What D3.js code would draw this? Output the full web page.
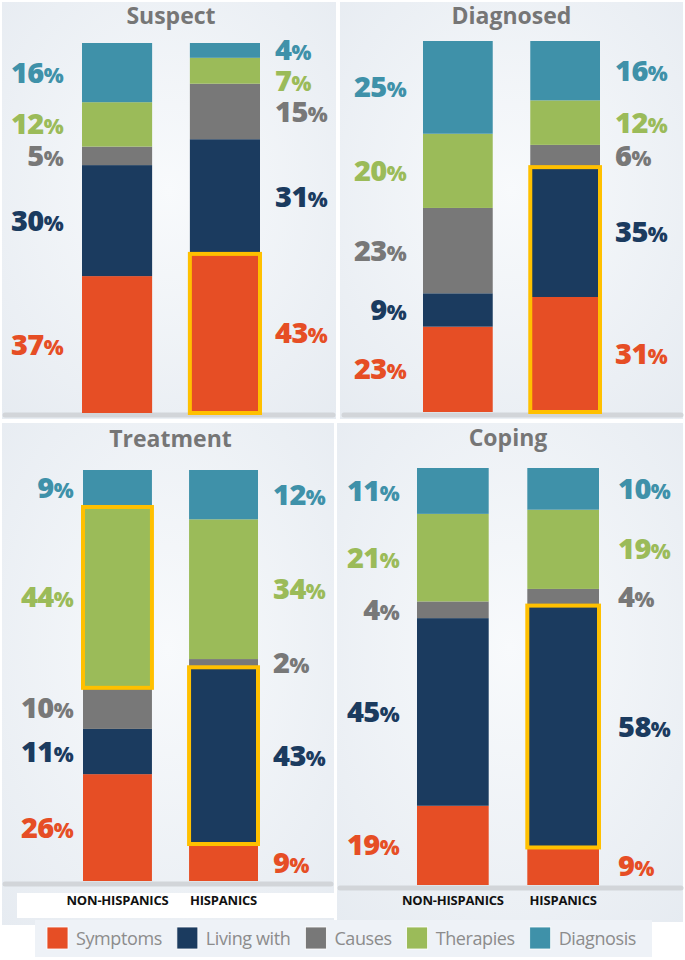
<!DOCTYPE html>
<html>
<head>
<meta charset="utf-8">
<script src="https://cdn.jsdelivr.net/npm/d3@7"></script>
<style>
  body { margin: 0; background: #fff; }
  svg { display: block; font-family: 'Open Sans', sans-serif; }
</style>
</head>
<body>
<svg id="chart" width="685" height="960"></svg>
<script>
// categories, bottom to top in each bar
const categories = ['Symptoms', 'Living with', 'Causes', 'Therapies', 'Diagnosis'];
const colors = ['#E64E25', '#1B3B5F', '#787878', '#9BBB59', '#3F91A9'];
const groups = ['NON-HISPANICS', 'HISPANICS'];
const panelTitles = ['Suspect', 'Diagnosed', 'Treatment', 'Coping'];

// % per category, one row per group
const suspectValues = [[37, 30, 5, 12, 16], [43, 31, 15, 7, 4]];
const diagnosedValues = [[23, 9, 23, 20, 25], [31, 35, 6, 12, 16]];
const treatmentValues = [[26, 11, 10, 44, 9], [9, 43, 2, 34, 12]];
const copingValues = [[19, 45, 4, 21, 11], [9, 58, 4, 19, 10]];

// highlighted blocks: [group index, first category, last category]
const suspectHighlight = [[1, 0, 0]];
const diagnosedHighlight = [[1, 0, 1]];
const treatmentHighlight = [[0, 3, 3], [1, 1, 1]];
const copingHighlight = [[1, 1, 1]];

const allValues = [suspectValues, diagnosedValues, treatmentValues, copingValues];
const allHighlights = [suspectHighlight, diagnosedHighlight, treatmentHighlight, copingHighlight];

// layout of each panel
const layout = [
  { box: [2, 2, 334, 417], bars: [82, 260], ys: [413, 43], titleY: 24, base: [5, 333, 415], gapL: 19, gapR: 15, axis: false },
  { box: [340, 2, 343, 417], bars: [423, 600], ys: [412, 41], titleY: 24, base: [344, 681, 415], gapL: 17, gapR: 15, axis: false },
  { box: [2, 423, 332, 502], bars: [83, 258], ys: [881, 470], titleY: 447, base: [5, 331, 884], gapL: 10, gapR: 15, axis: true, strip: [17, 893, 320, 25] },
  { box: [337, 423, 346, 499], bars: [417, 599], ys: [885, 468], titleY: 446, base: [340, 681, 888], gapL: 18, gapR: 19, axis: true }
];

const svg = d3.select('#chart');

const defs = svg.append('defs');
const grad = defs.append('radialGradient')
  .attr('id', 'panelBg')
  .attr('cx', '50%').attr('cy', '45%').attr('r', '75%');
grad.append('stop').attr('offset', '0%').attr('stop-color', '#F8FAFC');
grad.append('stop').attr('offset', '100%').attr('stop-color', '#E6EBF1');

const stack = d3.stack().keys(d3.range(categories.length));

allValues.forEach((values, p) => {
  const L = layout[p];
  const g = svg.append('g');

  g.append('rect')
    .attr('x', L.box[0]).attr('y', L.box[1])
    .attr('width', L.box[2]).attr('height', L.box[3])
    .attr('fill', 'url(#panelBg)');

  if (L.strip) {
    g.append('rect')
      .attr('x', L.strip[0]).attr('y', L.strip[1])
      .attr('width', L.strip[2]).attr('height', L.strip[3])
      .attr('fill', '#fff');
  }

  const x = d3.scaleBand()
    .domain(groups)
    .range(L.bars)
    .paddingInner(0.35)
    .paddingOuter(0);

  const y = d3.scaleLinear()
    .domain([0, 100])
    .range(L.ys);

  // baseline
  g.append('line')
    .attr('x1', L.base[0]).attr('x2', L.base[1])
    .attr('y1', L.base[2]).attr('y2', L.base[2])
    .attr('stroke', '#D2D5D9')
    .attr('stroke-width', 5)
    .attr('stroke-linecap', 'round');

  // title
  g.append('text')
    .attr('x', (L.bars[0] + L.bars[1]) / 2)
    .attr('y', L.titleY)
    .attr('text-anchor', 'middle')
    .attr('font-size', 23)
    .attr('font-weight', 'bold')
    .attr('fill', '#767676')
    .text(panelTitles[p]);

  const series = stack(values);

  // segments
  g.selectAll('.layer')
    .data(series)
    .enter()
      .append('g')
      .attr('fill', (d, i) => colors[i])
      .selectAll('rect')
      .data(d => d.map((v, gi) => ({ v, gi })))
      .enter()
        .append('rect')
        .attr('x', d => x(groups[d.gi]))
        .attr('y', d => y(d.v[1]))
        .attr('width', x.bandwidth())
        .attr('height', d => y(d.v[0]) - y(d.v[1]));

  // highlight boxes
  g.selectAll('.hl')
    .data(allHighlights[p])
    .enter()
      .append('rect')
      .attr('x', d => x(groups[d[0]]))
      .attr('y', d => y(series[d[2]][d[0]][1]))
      .attr('width', x.bandwidth())
      .attr('height', d => y(series[d[1]][d[0]][0]) - y(series[d[2]][d[0]][1]))
      .attr('fill', 'none')
      .attr('stroke', '#FFC000')
      .attr('stroke-width', 4);

  // labels, avoiding overlaps from top down
  groups.forEach((grp, gi) => {
    const items = categories.map((c, ci) => ({
      ci,
      val: values[gi][ci],
      cy: (y(series[ci][gi][0]) + y(series[ci][gi][1])) / 2
    })).reverse();
    for (let i = 1; i < items.length; i++) {
      if (items[i].cy < items[i - 1].cy + 31) items[i].cy = items[i - 1].cy + 31;
    }
    const left = gi === 0;
    const tx = left ? x(grp) - L.gapL : x(grp) + x.bandwidth() + L.gapR;
    const t = g.selectAll('.lbl' + gi)
      .data(items)
      .enter()
        .append('text')
        .attr('x', tx)
        .attr('y', d => d.cy + 10)
        .attr('text-anchor', left ? 'end' : 'start')
        .attr('font-weight', 800)
        .attr('letter-spacing', -0.6)
        .attr('fill', d => colors[d.ci]);
    t.append('tspan').attr('font-size', 29).text(d => d.val);
    t.append('tspan').attr('font-size', 21).text('%');
  });

  if (L.axis) {
    const ax = g.append('g')
      .attr('transform', `translate(0,${896})`)
      .call(d3.axisBottom(x).tickSize(0).tickPadding(0));
    ax.select('.domain').remove();
    ax.selectAll('text')
      .attr('font-family', "'Open Sans', sans-serif")
      .attr('font-size', 13)
      .attr('font-weight', 'bold')
      .attr('fill', '#111')
      .attr('letter-spacing', -0.2);
  }
});

// legend
const legend = svg.append('g');
legend.append('rect')
  .attr('x', 35).attr('y', 920)
  .attr('width', 617).attr('height', 37)
  .attr('fill', '#EEF2F7');

let lx = 47;
categories.forEach((c, i) => {
  legend.append('rect')
    .attr('x', lx).attr('y', 927)
    .attr('width', 21).attr('height', 22)
    .attr('fill', colors[i])
    .attr('stroke', '#fff')
    .attr('stroke-width', 0.8);
  const t = legend.append('text')
    .attr('x', lx + 29)
    .attr('y', 944.5)
    .attr('font-size', 18)
    .attr('fill', '#8C8C8C')
    .attr('letter-spacing', -0.4)
    .text(c);
  lx = lx + 29 + t.node().getComputedTextLength() + 15;
});
</script>
</body>
</html>
